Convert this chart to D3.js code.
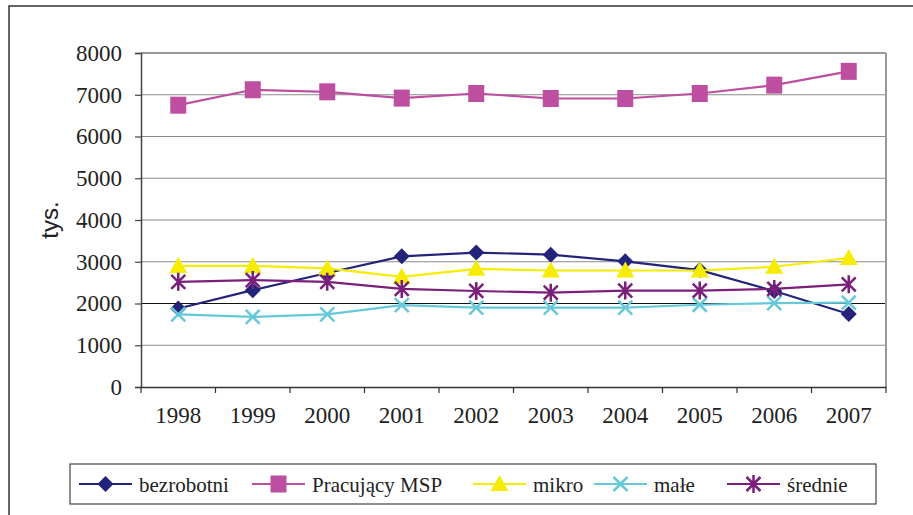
<!DOCTYPE html>
<html><head><meta charset="utf-8">
<script src="https://cdn.jsdelivr.net/npm/d3@7"></script>
<style>body{margin:0;background:#fff}svg{display:block}</style>
</head><body>
<script>
const years = ["1998","1999","2000","2001","2002","2003","2004","2005","2006","2007"];
const bezrobotni = [1880,2320,2730,3130,3220,3170,3010,2800,2300,1750];
const pracujacy = [6750,7120,7070,6920,7030,6910,6910,7030,7230,7560];
const mikro = [2900,2900,2840,2640,2830,2790,2790,2790,2880,3090];
const male = [1740,1680,1740,1960,1900,1900,1900,1970,2010,2020];
const srednie = [2520,2560,2520,2350,2300,2260,2310,2310,2350,2460];
const yTicks = [0,1000,2000,3000,4000,5000,6000,7000,8000];

const series = [
  {name:"bezrobotni", values:bezrobotni, color:"#23237A", marker:"diamond"},
  {name:"Pracujący MSP", values:pracujacy, color:"#BE4FA0", marker:"square"},
  {name:"mikro", values:mikro, color:"#F5EC00", marker:"triangle"},
  {name:"małe", values:male, color:"#66C9DA", marker:"x"},
  {name:"średnie", values:srednie, color:"#7A1F7A", marker:"star"}
];

const SERIF = "'Liberation Serif', 'Times New Roman', Tinos, 'DejaVu Serif', serif";
const SANS = "'Liberation Sans', Arial, sans-serif";

const W=913,H=515;
const svg=d3.select("body").append("svg").attr("width",W).attr("height",H);
svg.append("rect").attr("x",9).attr("y",6).attr("width",W).attr("height",H).attr("fill","none").attr("stroke","#333").attr("stroke-width",1.5);

const L=141,R=886,T=53,B=387;
const x=d3.scaleBand().domain(years).range([L,R]);
const y=d3.scaleLinear().domain([0,8000]).range([B,T]);

svg.append("g").selectAll("line").data(yTicks.filter(d=>d>0)).join("line")
  .attr("x1",L).attr("x2",R).attr("y1",d=>y(d)).attr("y2",d=>y(d))
  .attr("stroke",d=>d===2000?"#111":"#8a8a8a").attr("stroke-width",1.2);
svg.append("line").attr("x1",R).attr("x2",R).attr("y1",T).attr("y2",B).attr("stroke","#9a9a9a").attr("stroke-width",2);
svg.append("line").attr("x1",L).attr("x2",R).attr("y1",T).attr("y2",T).attr("stroke","#9a9a9a").attr("stroke-width",2);

const yAxis=d3.axisLeft(y).tickValues(yTicks).tickSize(6).tickPadding(13).tickFormat(d3.format("d"));
const gy=svg.append("g").attr("transform",`translate(${L},0)`).call(yAxis);
gy.attr("font-family",SERIF).attr("font-size",23);
gy.select(".domain").attr("stroke","#444").attr("stroke-width",1.5);
gy.selectAll(".tick line").attr("stroke","#444").attr("stroke-width",1.2);
gy.selectAll("text").style("font-family",SERIF).style("font-size","23px").attr("fill","#222");

const gx=svg.append("g").attr("transform",`translate(0,${B})`).call(d3.axisBottom(x).tickSize(0).tickPadding(20));
gx.attr("font-family",SERIF).attr("font-size",23);
gx.select(".domain").attr("stroke","#333").attr("stroke-width",1.5);
gx.selectAll("text").style("font-family",SERIF).style("font-size","23px").attr("fill","#222");
svg.append("g").selectAll("line").data(years.concat(["end"])).join("line")
  .attr("x1",(d,i)=>L+i*x.step()).attr("x2",(d,i)=>L+i*x.step())
  .attr("y1",B).attr("y2",B+6).attr("stroke","#333").attr("stroke-width",1.2);

svg.append("text").attr("transform","translate(58,220) rotate(-90)").attr("text-anchor","middle")
  .style("font-family",SANS).style("font-size","24px").attr("fill","#222").text("tys.");

function drawMarker(g,type,color,cx,cy){
  if(type==="diamond"){
    g.append("path").attr("d",`M${cx},${cy-8}L${cx+8},${cy}L${cx},${cy+8}L${cx-8},${cy}Z`).attr("fill",color);
  } else if(type==="square"){
    g.append("rect").attr("x",cx-8).attr("y",cy-8.5).attr("width",16).attr("height",17).attr("fill",color);
  } else if(type==="triangle"){
    g.append("path").attr("d",`M${cx},${cy-9}L${cx+9},${cy+7}L${cx-9},${cy+7}Z`).attr("fill",color);
  } else if(type==="x"){
    g.append("path").attr("d",`M${cx-7},${cy-7}L${cx+7},${cy+7}M${cx+7},${cy-7}L${cx-7},${cy+7}`).attr("stroke",color).attr("stroke-width",2.5);
  } else if(type==="star"){
    g.append("path").attr("d",`M${cx-7},${cy-7}L${cx+7},${cy+7}M${cx+7},${cy-7}L${cx-7},${cy+7}M${cx},${cy-9}L${cx},${cy+9}`).attr("stroke",color).attr("stroke-width",2.5);
  }
}

const line=d3.line().x((d,i)=>x(years[i])+x.bandwidth()/2).y(d=>y(d));
series.forEach(s=>{
  const g=svg.append("g");
  g.append("path").attr("d",line(s.values)).attr("fill","none").attr("stroke",s.color).attr("stroke-width",2.2);
  s.values.forEach((v,i)=>drawMarker(g,s.marker,s.color,x(years[i])+x.bandwidth()/2,y(v)));
});

svg.append("rect").attr("x",70).attr("y",464).attr("width",806).attr("height",40).attr("fill","#fff").attr("stroke","#444").attr("stroke-width",1.2);
const legX=[79,252,473,594,727];
const leg=svg.append("g");
series.forEach((s,i)=>{
  const x0=legX[i], yy=484;
  leg.append("line").attr("x1",x0).attr("x2",x0+53).attr("y1",yy).attr("y2",yy).attr("stroke",s.color).attr("stroke-width",2.2);
  drawMarker(leg,s.marker,s.color,x0+26.5,yy);
  leg.append("text").attr("x",x0+60).attr("y",yy+8).style("font-family",SERIF).style("font-size","21px").attr("fill","#222").text(s.name);
});
</script>
</body></html>
